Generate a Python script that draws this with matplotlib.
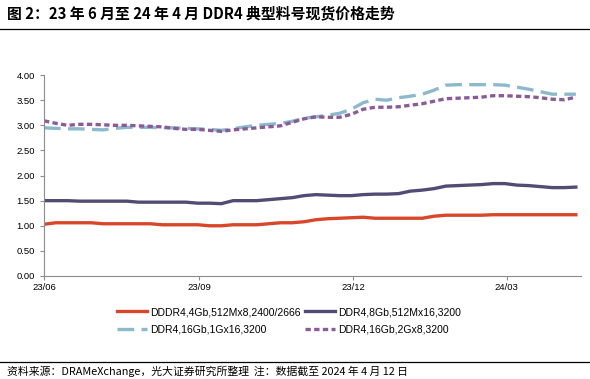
import pandas as pd
import matplotlib.pyplot as plt
import matplotlib.dates as mdates
from matplotlib.lines import Line2D

plt.rcParams["font.family"] = ["Liberation Sans", "Noto Sans CJK SC"]

# ============================================================
# 数据（周度，2023-06-01 起）
# ============================================================
START_DATE = "2023-06-01"
N_WEEKS = 46
dates = pd.date_range(START_DATE, periods=N_WEEKS, freq="7D")

ddr4_4gb = [1.03, 1.06, 1.06, 1.06, 1.06, 1.04, 1.04, 1.04, 1.04, 1.04,
            1.02, 1.02, 1.02, 1.02, 1.00, 1.00, 1.02, 1.02, 1.02, 1.04,
            1.06, 1.06, 1.08, 1.12, 1.14, 1.15, 1.16, 1.17, 1.15, 1.15,
            1.15, 1.15, 1.15, 1.19, 1.21, 1.21, 1.21, 1.21, 1.22, 1.22,
            1.22, 1.22, 1.22, 1.22, 1.22, 1.22]
ddr4_8gb = [1.50, 1.50, 1.50, 1.49, 1.49, 1.49, 1.49, 1.49, 1.47, 1.47,
            1.47, 1.47, 1.47, 1.45, 1.45, 1.44, 1.50, 1.50, 1.50, 1.52,
            1.54, 1.56, 1.60, 1.62, 1.61, 1.60, 1.60, 1.62, 1.63, 1.63,
            1.64, 1.69, 1.71, 1.74, 1.79, 1.80, 1.81, 1.82, 1.84, 1.84,
            1.81, 1.80, 1.78, 1.76, 1.76, 1.77]
ddr4_16gb_1g = [2.95, 2.94, 2.93, 2.93, 2.92, 2.91, 2.94, 2.96, 2.96, 2.96,
                2.95, 2.95, 2.94, 2.93, 2.92, 2.90, 2.93, 2.97, 3.00, 3.02,
                3.04, 3.08, 3.14, 3.17, 3.20, 3.24, 3.32, 3.45, 3.52, 3.50,
                3.55, 3.58, 3.62, 3.70, 3.80, 3.81, 3.81, 3.81, 3.81, 3.80,
                3.76, 3.72, 3.67, 3.62, 3.62, 3.62]
ddr4_16gb_2g = [3.09, 3.04, 3.00, 3.02, 3.02, 3.01, 3.00, 3.00, 2.99, 2.98,
                2.97, 2.94, 2.92, 2.92, 2.90, 2.88, 2.91, 2.93, 2.95, 2.97,
                2.99, 3.06, 3.13, 3.17, 3.16, 3.16, 3.22, 3.32, 3.36, 3.36,
                3.37, 3.40, 3.43, 3.48, 3.53, 3.54, 3.55, 3.56, 3.59, 3.59,
                3.58, 3.57, 3.55, 3.52, 3.51, 3.56]

labels = ["DDDR4,4Gb,512Mx8,2400/2666", "DDR4,8Gb,512Mx16,3200",
          "DDR4,16Gb,1Gx16,3200", "DDR4,16Gb,2Gx8,3200"]
tick_dates = ["2023-06-01", "2023-09-01", "2023-12-01", "2024-03-01"]
yticks = [0.0, 0.5, 1.0, 1.5, 2.0, 2.5, 3.0, 3.5, 4.0]

TITLE = "图 2：23 年 6 月至 24 年 4 月 DDR4 典型料号现货价格走势"
SOURCE = "资料来源：DRAMeXchange，光大证券研究所整理  注：数据截至 2024 年 4 月 12 日"

# ============================================================
# 绘图
# ============================================================
fig = plt.figure(figsize=(5.9, 3.79), dpi=100)
ax = fig.add_axes([0.0746, 0.2718, 0.910, 0.530])

l1, = ax.plot(dates, ddr4_4gb, color="#D9472B", lw=2.4)
l2, = ax.plot(dates, ddr4_8gb, color="#524C75", lw=2.4)
l3, = ax.plot(dates, ddr4_16gb_1g, color="#8DB9CC", lw=2.4, dashes=(5, 2.2))
l4, = ax.plot(dates, ddr4_16gb_2g, color="#8B5B98", lw=2.4, dashes=(1.6, 1.0))

ax.set_ylim(0, 4)
ax.set_yticks(yticks)
ax.set_yticklabels([f"{v:.2f}" for v in yticks])
ax.set_xlim(pd.Timestamp("2023-06-01"), pd.Timestamp("2024-04-14"))
ax.set_xticks(pd.to_datetime(tick_dates))
ax.xaxis.set_major_formatter(mdates.DateFormatter("%y/%m"))

for side in ["top", "right"]:
    ax.spines[side].set_visible(False)
for side in ["left", "bottom"]:
    ax.spines[side].set_color("#8C8C8C")
    ax.spines[side].set_linewidth(0.8)
ax.tick_params(axis="both", colors="#8C8C8C", labelcolor="black",
               labelsize=6.8, length=3, width=0.8)
ax.tick_params(axis="x", pad=2)

# 图例：按列填充，故顺序为 红、蓝、深紫、紫
fig.legend([l1, l3, l2, l4], [labels[0], labels[2], labels[1], labels[3]],
           loc="center", bbox_to_anchor=(0.49, 0.153), ncol=2, frameon=False,
           fontsize=7.5, handlelength=2.9, handletextpad=0.3,
           columnspacing=0.4, labelspacing=0.75)

# 标题与来源
fig.text(0.012, 0.965, TITLE, fontsize=10.7, fontweight="bold",
         family=["Noto Sans CJK SC"], va="center", ha="left")
fig.add_artist(Line2D([0, 1], [0.924, 0.924], color="black", lw=0.9))
fig.add_artist(Line2D([0, 1], [0.045, 0.045], color="black", lw=0.9))
fig.text(0.012, 0.020, SOURCE, fontsize=7.8, family=["Noto Sans CJK SC"],
         va="center", ha="left")

fig.savefig("out.png", dpi=100)
